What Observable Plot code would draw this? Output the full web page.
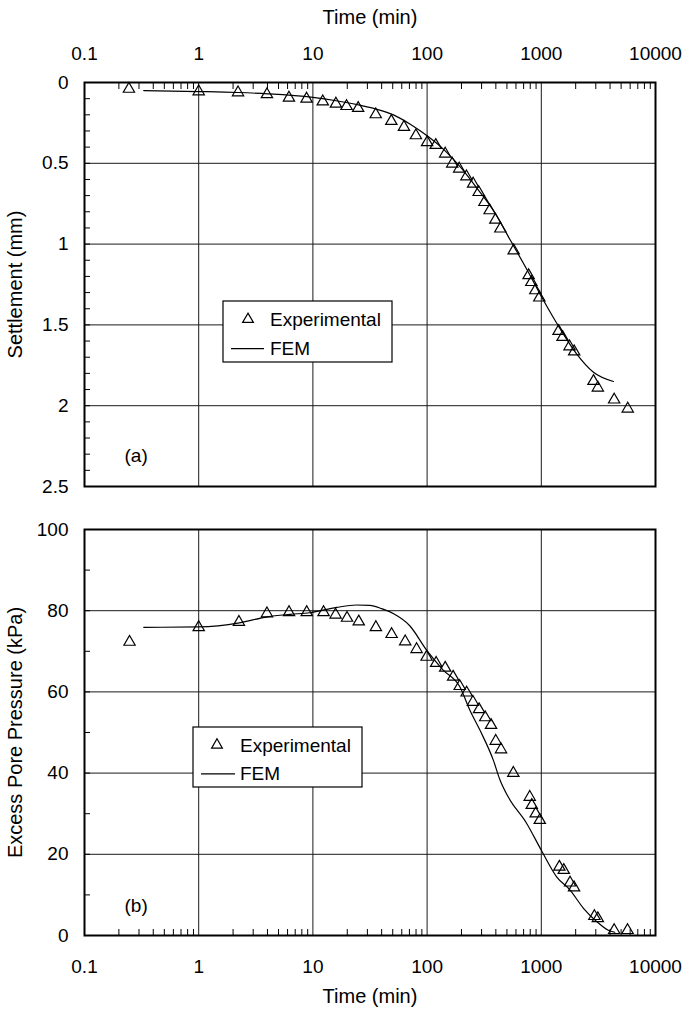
<!DOCTYPE html>
<html><head><meta charset="utf-8">
<script src="https://cdn.jsdelivr.net/npm/d3@7"></script>
<script src="https://cdn.jsdelivr.net/npm/@observablehq/plot@0.6"></script>
<style>
html,body{margin:0;padding:0;background:#fff;}
#chart{position:relative;width:686px;height:1014px;}
#chart svg{display:block;}
</style></head><body><div id="chart"></div>
<script>
// ---- tick values / labels ----
const xTickValues = [0.1, 1, 10, 100, 1000, 10000];
const xTickLabels = ["0.1", "1", "10", "100", "1000", "10000"];
const xGridValues = [1, 10, 100, 1000];
const settleTickValues = [0, 0.5, 1, 1.5, 2, 2.5];
const settleTickLabels = ["0", "0.5", "1", "1.5", "2", "2.5"];
const settleGridValues = [0.5, 1, 1.5, 2];
const poreTickValues = [0, 20, 40, 60, 80, 100];
const poreTickLabels = ["0", "20", "40", "60", "80", "100"];
const poreGridValues = [20, 40, 60, 80];

// ---- panel (a): settlement ----
const expSettleTime = [0.245,1.0,2.21,3.96,6.17,8.8,12.2,15.9,19.7,24.9,35.5,48.6,62.7,79.8,100,119,144,166,191,221,253,283,318,353,396,438,573,774,818,887,961,1416,1535,1767,1941,2864,3127,4345,5716];
const expSettle = [0.04,0.056,0.062,0.074,0.095,0.101,0.118,0.132,0.147,0.159,0.198,0.239,0.276,0.328,0.371,0.388,0.441,0.503,0.534,0.582,0.627,0.679,0.741,0.792,0.850,0.905,1.040,1.194,1.236,1.287,1.332,1.539,1.576,1.634,1.665,1.848,1.889,1.963,2.019];
const femSettleTime = [0.33,1,2.2,4,10,16,26.3,36,51.3,71.8,100,141,196,276,387,538,750,1047,1461,2037,2864,4279];
const femSettle = [0.05,0.056,0.062,0.07,0.092,0.113,0.142,0.165,0.202,0.260,0.330,0.417,0.524,0.658,0.80,0.978,1.159,1.349,1.524,1.679,1.793,1.850];

// ---- panel (b): excess pore pressure ----
const expPoreTime = [0.248,1.0,2.25,3.96,6.18,8.83,12.4,15.8,19.9,25.2,35.6,48.9,64.3,80.9,99,120,144,169,193,222,252,285,323,363,399,444,569,792,825,893,970,1439,1573,1786,1936,2917,3126,4345,5690];
const expPore = [72.3,75.9,77.2,79.3,79.6,79.6,79.6,79.0,78.2,77.3,75.9,74.2,72.4,70.5,68.6,67.1,65.9,63.7,61.4,59.8,57.5,55.7,53.7,51.8,47.9,45.8,40.0,34.1,32.1,30.0,28.4,16.9,16.1,13.0,11.8,4.75,4.2,1.3,1.3];
const femPoreTime = [0.33,1,2.27,4,6.3,9.4,16.1,24,31.5,40,50.5,70.5,99,137,194,237,290,380,435,514,745,1000,1367,1786,2340,3065,3860,4400];
const femPore = [75.9,76.0,77.0,78.5,79.1,79.5,80.8,81.4,81.3,80.5,79.3,76.3,70.3,65.5,61.2,55.5,50.6,43.2,38.3,34.1,27.6,21.0,14.4,11.2,6.7,3.4,1.3,0.8];

const seriesNames = ["Experimental", "FEM"];

// minor tick positions
const minorX = [];
for (const d of [0.1, 1, 10, 100, 1000]) for (let k = 2; k <= 9; k++) minorX.push(+(d * k).toPrecision(3));
const minorSettle = d3.range(0, 26).map(i => i / 10);
const minorPore = d3.range(0, 101, 10);

const rows = (xs, ys) => xs.map((t, i) => ({t, v: ys[i]}));
const FONT = '"Liberation Sans", Arial, Helvetica, sans-serif';
const xFmt = d => xTickLabels[xTickValues.indexOf(d)];

function panel({height, marginTop, marginBottom, yDomain, reverse, yMinor, yTicks, yLabels, yGrid, yLabel, xAnchor, tag, tagDy, exp, fem}) {
  return Plot.plot({
    width: 686, height, marginTop, marginBottom, marginLeft: 84, marginRight: 31,
    style: {fontFamily: FONT, fontSize: "19px", background: "white", color: "black", overflow: "visible"},
    x: {type: "log", domain: [0.1, 10000]},
    y: {domain: yDomain, reverse},
    marks: [
      Plot.gridX(xGridValues, {stroke: "#1a1a1a", strokeOpacity: 1, strokeWidth: 1}),
      Plot.gridY(yGrid, {stroke: "#1a1a1a", strokeOpacity: 1, strokeWidth: 1}),
      xAnchor === "top"
        ? Plot.axisX(minorX, {anchor: "top", tickSize: 6, insetTop: 6, fill: "none", label: null, stroke: "black"})
        : Plot.axisX(minorX, {anchor: "bottom", tickSize: 6, insetBottom: 6, fill: "none", label: null, stroke: "black"}),
      Plot.axisX(xTickValues, {anchor: xAnchor, tickSize: 0, tickPadding: xAnchor === "top" ? 23 : 24, tickFormat: xFmt,
        label: null, fontSize: 19}),
      Plot.axisX({anchor: xAnchor, ticks: [], tickSize: 0,
        label: "Time (min)", labelAnchor: "center", labelOffset: xAnchor === "top" ? 73 : 67, labelArrow: false, fontSize: 20}),
      Plot.axisY(yMinor, {anchor: "left", tickSize: 6, insetLeft: 6, fill: "none", label: null, stroke: "black"}),
      Plot.axisY(yTicks, {anchor: "left", tickSize: 0, tickPadding: 16, tickFormat: d => yLabels[yTicks.indexOf(d)],
        label: null, fontSize: 19}),
      Plot.axisY({anchor: "left", ticks: [], tickSize: 0,
        label: yLabel, labelAnchor: "center", labelOffset: 77, labelArrow: false, fontSize: 20}),
      Plot.line(rows(fem[0], fem[1]), {x: "t", y: "v", stroke: "black", strokeWidth: 1.2, curve: "monotone-x"}),
      Plot.dot(rows(exp[0], exp[1]), {x: "t", y: "v", symbol: "triangle", r: 4.2, stroke: "black", strokeWidth: 1.2, fill: "none"}),
      Plot.frame({stroke: "black", strokeWidth: 2}),
      Plot.text([tag], {text: d => d, frameAnchor: "bottom-left", dx: 40, dy: tagDy, textAnchor: "start", fontSize: 19})
    ]
  });
}

const topPlot = panel({
  height: 508, marginTop: 82, marginBottom: 22, yDomain: [0, 2.5], reverse: true,
  yMinor: minorSettle, yTicks: settleTickValues, yLabels: settleTickLabels, yGrid: settleGridValues,
  yLabel: "Settlement (mm)", xAnchor: "top", tag: "(a)", tagDy: -25,
  exp: [expSettleTime, expSettle], fem: [femSettleTime, femSettle]
});
const botPlot = panel({
  height: 506, marginTop: 21, marginBottom: 79, yDomain: [0, 100], reverse: false,
  yMinor: minorPore, yTicks: poreTickValues, yLabels: poreTickLabels, yGrid: poreGridValues,
  yLabel: "Excess Pore Pressure (kPa)", xAnchor: "bottom", tag: "(b)", tagDy: -24,
  exp: [expPoreTime, expPore], fem: [femPoreTime, femPore]
});

function addLegend(svgNode, x0, y0, w, h, symX, lineX0, lineX1, textX) {
  const svg = d3.select(svgNode);
  const g = svg.append("g").attr("font-family", FONT).attr("font-size", 19).attr("text-anchor", "start").attr("fill", "black");
  g.append("rect").attr("x", x0).attr("y", y0).attr("width", w).attr("height", h)
    .attr("fill", "white").attr("stroke", "black").attr("stroke-width", 1.2);
  const r1 = y0 + h * 0.3, r2 = y0 + h * 0.78;
  g.append("path").attr("d", d3.symbol(d3.symbolTriangle, Math.PI * 16)())
    .attr("transform", `translate(${symX},${r1})`).attr("fill", "none").attr("stroke", "black").attr("stroke-width", 1.2);
  g.append("line").attr("x1", lineX0).attr("x2", lineX1).attr("y1", r2).attr("y2", r2).attr("stroke", "black").attr("stroke-width", 1.2);
  g.append("text").attr("x", textX).attr("y", r1).attr("dy", "0.35em").attr("text-anchor", "start").text(seriesNames[0]);
  g.append("text").attr("x", textX).attr("y", r2).attr("dy", "0.35em").attr("text-anchor", "start").text(seriesNames[1]);
}
addLegend(topPlot, 223, 301, 169, 61, 248, 231, 264, 270);
addLegend(botPlot, 193, 219, 169, 60, 217, 201, 235, 240);

const chart = document.getElementById("chart");
chart.append(topPlot, botPlot);
</script>
</body></html>
